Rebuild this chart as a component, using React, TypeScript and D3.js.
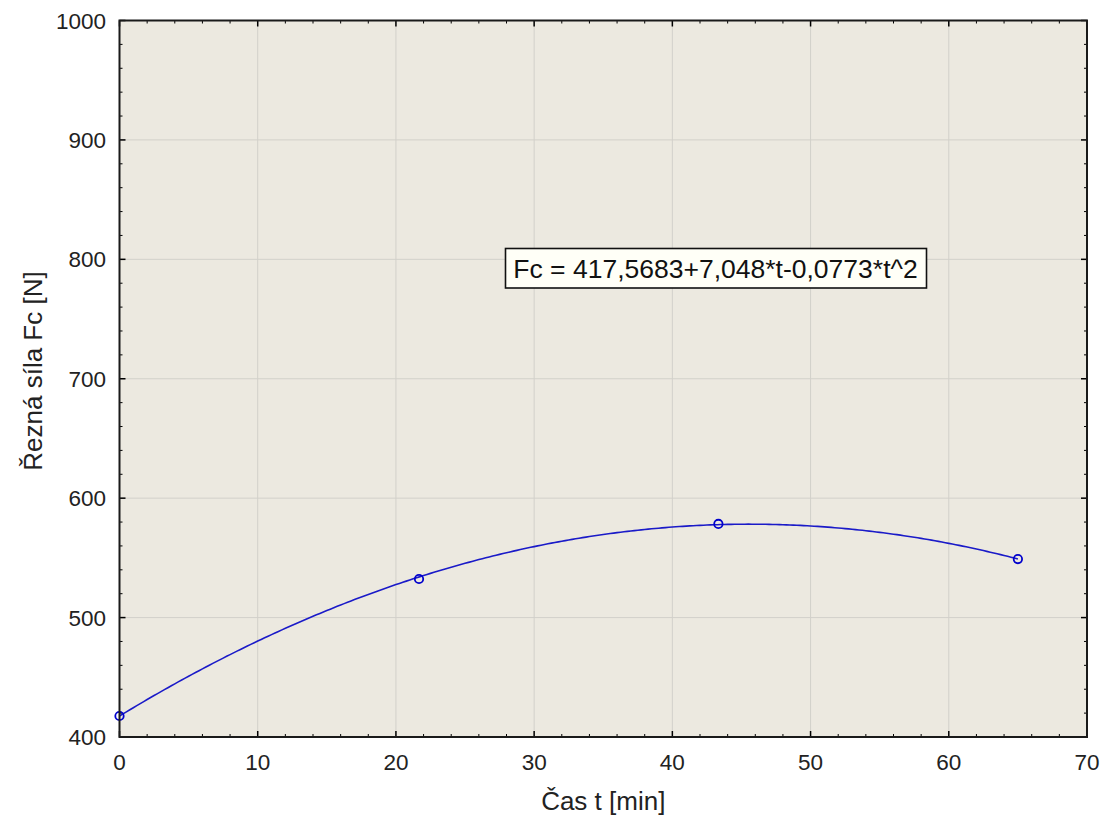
import React from "react";
import * as d3 from "d3";

const pointT = [0, 21.67, 43.33, 65];
const pointFc = [417.6, 532.3, 578.4, 549.0];
const fitCoefs = [417.5683, 7.048, -0.0773];
const xTicks = [0, 10, 20, 30, 40, 50, 60, 70];
const yTicks = [400, 500, 600, 700, 800, 900, 1000];
const equationLabel = "Fc = 417,5683+7,048*t-0,0773*t^2";
const xTitle = "Čas t [min]";
const yTitle = "Řezná síla Fc [N]";

const W = 1109, H = 823;
const L = 119.5, R = 1087, T = 20.5, B = 737;
const FONT = "'Liberation Sans', Arial, sans-serif";

export default function App() {
  const x = d3.scaleLinear().domain([0, 70]).range([L, R]);
  const y = d3.scaleLinear().domain([400, 1000]).range([B, T]);
  const xMinor = d3.range(0, 70.001, 2).filter((v) => v % 10 !== 0);
  const yMinor = d3.range(400, 1000.001, 20).filter((v) => v % 100 !== 0);
  const fitT = d3.range(0, 65.0001, 0.25);
  const fitLine = d3
    .line<number>()
    .x((t) => x(t))
    .y((t) => y(fitCoefs[0] + fitCoefs[1] * t + fitCoefs[2] * t * t));
  const tickC = "#222";
  return (
    <svg width={W} height={H} style={{ position: "absolute", left: 0, top: 0, background: "#fff" }} fontFamily={FONT}>
      <rect x={L} y={T} width={R - L} height={B - T} fill="#ECE9E0" />
      {xTicks.slice(1, -1).map((v) => (
        <line key={"gx" + v} x1={x(v)} x2={x(v)} y1={T} y2={B} stroke="#D2D0CA" strokeWidth={1} />
      ))}
      {yTicks.slice(1, -1).map((v) => (
        <line key={"gy" + v} x1={L} x2={R} y1={y(v)} y2={y(v)} stroke="#D2D0CA" strokeWidth={1} />
      ))}
      {xTicks.map((v) => (
        <g key={"tx" + v}>
          <line x1={x(v)} x2={x(v)} y1={B} y2={B - 6} stroke="#000" strokeWidth={1.5} />
          <line x1={x(v)} x2={x(v)} y1={T} y2={T + 6} stroke="#000" strokeWidth={1.5} />
        </g>
      ))}
      {xMinor.map((v) => (
        <g key={"mx" + v}>
          <line x1={x(v)} x2={x(v)} y1={B} y2={B - 3} stroke="#000" strokeWidth={1} />
          <line x1={x(v)} x2={x(v)} y1={T} y2={T + 3} stroke="#000" strokeWidth={1} />
        </g>
      ))}
      {yTicks.map((v) => (
        <g key={"ty" + v}>
          <line x1={L} x2={L + 6} y1={y(v)} y2={y(v)} stroke="#000" strokeWidth={1.5} />
          <line x1={R} x2={R - 6} y1={y(v)} y2={y(v)} stroke="#000" strokeWidth={1.5} />
        </g>
      ))}
      {yMinor.map((v) => (
        <g key={"my" + v}>
          <line x1={L} x2={L + 3} y1={y(v)} y2={y(v)} stroke="#000" strokeWidth={1} />
          <line x1={R} x2={R - 3} y1={y(v)} y2={y(v)} stroke="#000" strokeWidth={1} />
        </g>
      ))}
      <path d={fitLine(fitT) || ""} fill="none" stroke="#1A1AC8" strokeWidth={1.6} />
      {pointT.map((t, i) => (
        <circle key={"p" + i} cx={x(t)} cy={y(pointFc[i])} r={4.2} fill="none" stroke="#0000CC" strokeWidth={1.8} />
      ))}
      <rect x={L} y={T} width={R - L} height={B - T} fill="none" stroke="#1a1a1a" strokeWidth={2} />
      {xTicks.map((v) => (
        <text key={"lx" + v} x={x(v)} y={770} textAnchor="middle" fontSize={22.5} fill={tickC}>
          {v}
        </text>
      ))}
      {yTicks.map((v) => (
        <text key={"ly" + v} x={106} y={y(v)} dy="0.36em" textAnchor="end" fontSize={22.5} fill={tickC}>
          {v}
        </text>
      ))}
      <text x={(L + R) / 2} y={810} textAnchor="middle" fontSize={26} fill={tickC}>
        {xTitle}
      </text>
      <text transform={`translate(42,371) rotate(-90)`} textAnchor="middle" fontSize={26} fill={tickC}>
        {yTitle}
      </text>
      <rect x={505.5} y={248.5} width={421} height={39.5} fill="#FFFFF7" stroke="#111" strokeWidth={1.6} />
      <text x={715.5} y={268.5} dy="0.36em" textAnchor="middle" fontSize={26.5} fill="#111">
        {equationLabel}
      </text>
    </svg>
  );
}
